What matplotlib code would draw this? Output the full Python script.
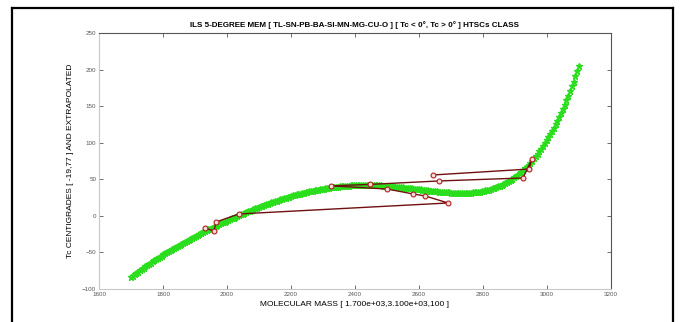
import numpy as np
import matplotlib.pyplot as plt
from matplotlib.lines import Line2D

plt.rcParams.update({
    'font.family': ['Liberation Sans', 'DejaVu Sans'],
    'font.size': 5,
})

# measured HTSC points, in the order they were recorded
mass = [1931, 1959, 1966, 2037, 2691, 2619, 2581, 2500, 2325, 2447,
        2662, 2925, 2953, 2944, 2644]
tc = [-16.6, -20.7, -8.4, 2.6, 17.6, 27.2, 30.0, 36.7, 41.0, 43.0,
      47.7, 51.8, 77.8, 64.0, 55.9]

# 5-degree model curve, every 100 units of mass
model_mass = [1700, 1800, 1900, 2000, 2100, 2200, 2300, 2400,
              2500, 2600, 2700, 2800, 2900, 3000, 3100]
model_tc = [-83, -55, -27, -5, 12, 26, 37, 42,
            41, 37, 32, 34, 52, 105, 205]
n_pts = 250

fig = plt.figure(figsize=(6.81, 3.22), dpi=100)
ax = fig.add_axes([99 / 681, 1 - 289 / 322, 512 / 681, 256 / 322])

coef = np.polyfit(model_mass, model_tc, 5)
xf = np.linspace(model_mass[0], model_mass[-1], n_pts)
ax.plot(xf, np.polyval(coef, xf), ls='none', marker='*', ms=4.5,
        color='#2ade1e', mec='#2ade1e')
ax.plot(mass, tc, '-', color='#701010', lw=1.0)
ax.plot(mass, tc, 'o', ls='none', ms=3.5, mfc='#f4dada', mec='#b02020', mew=0.8)

ax.set_xlim(1600, 3200)
ax.set_ylim(-100, 250)
ax.set_xticks(np.arange(1600, 3201, 200))
ax.set_yticks(np.arange(-100, 251, 50))
ax.tick_params(direction='in', length=3, width=0.6, top=True, right=True,
               labelsize=4.5, labelcolor='#555555', color='#555555', pad=2)
for s in ['top', 'right']:
    ax.spines[s].set_color('#555555')
for s in ['left', 'bottom']:
    ax.spines[s].set_color('#c8c8c8')
for s in ax.spines.values():
    s.set_linewidth(0.8)

ax.set_title('ILS 5-DEGREE MEM [ TL-SN-PB-BA-SI-MN-MG-CU-O ] [ Tc < 0°, Tc > 0° ] HTSCs CLASS',
             fontsize=5.8, fontweight='bold', pad=4)
ax.set_xlabel('MOLECULAR MASS [ 1.700e+03,3.100e+03,100 ]', fontsize=6, labelpad=3)
ax.set_ylabel('Tc CENTIGRADES [ -19,77 ] AND EXTRAPOLATED', fontsize=6, labelpad=6)

# outer frame
fx0, fx1, fy0 = 12 / 681, 673 / 681, 1 - 8 / 322
for xs, ys in [([fx0, fx0], [0, fy0]), ([fx1, fx1], [0, fy0]), ([fx0, fx1], [fy0, fy0])]:
    fig.add_artist(Line2D(xs, ys, color='black', lw=1.6, transform=fig.transFigure))

fig.savefig('out.png', dpi=100)
